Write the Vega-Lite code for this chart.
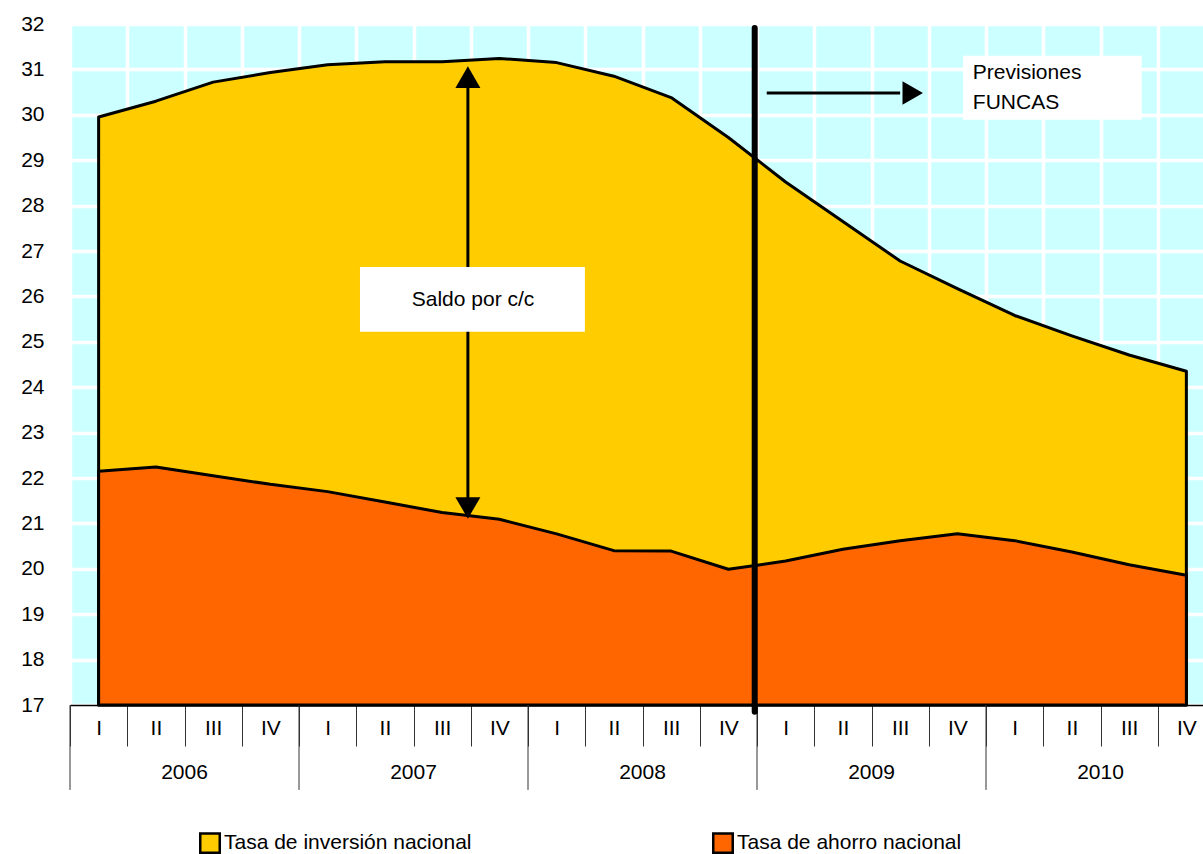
{
  "$schema": "https://vega.github.io/schema/vega-lite/v6.json",
  "autosize": "none",
  "width": 1133,
  "height": 681,
  "padding": {"left": 70, "top": 24, "right": 0, "bottom": 149},
  "config": {
    "font": "Liberation Sans",
    "view": {"stroke": null, "fill": "#CCFFFF"},
    "text": {"font": "Liberation Sans", "color": "black"}
  },
  "datasets": {
    "series": [
      {"id": "2006-I", "inv": 29.95, "aho": 22.15},
      {"id": "2006-II", "inv": 30.30, "aho": 22.24},
      {"id": "2006-III", "inv": 30.72, "aho": 22.05},
      {"id": "2006-IV", "inv": 30.93, "aho": 21.86},
      {"id": "2007-I", "inv": 31.10, "aho": 21.70},
      {"id": "2007-II", "inv": 31.17, "aho": 21.47},
      {"id": "2007-III", "inv": 31.17, "aho": 21.24},
      {"id": "2007-IV", "inv": 31.24, "aho": 21.09},
      {"id": "2008-I", "inv": 31.15, "aho": 20.77},
      {"id": "2008-II", "inv": 30.85, "aho": 20.40},
      {"id": "2008-III", "inv": 30.38, "aho": 20.39},
      {"id": "2008-IV", "inv": 29.50, "aho": 19.99},
      {"id": "2009-I", "inv": 28.52, "aho": 20.17},
      {"id": "2009-II", "inv": 27.65, "aho": 20.43},
      {"id": "2009-III", "inv": 26.78, "aho": 20.62},
      {"id": "2009-IV", "inv": 26.17, "aho": 20.77},
      {"id": "2010-I", "inv": 25.58, "aho": 20.62},
      {"id": "2010-II", "inv": 25.13, "aho": 20.37},
      {"id": "2010-III", "inv": 24.71, "aho": 20.09},
      {"id": "2010-IV", "inv": 24.35, "aho": 19.86}
    ],
    "years": [
      {"year": "2006", "first": "2006-I", "mid": "2006-II"},
      {"year": "2007", "first": "2007-I", "mid": "2007-II"},
      {"year": "2008", "first": "2008-I", "mid": "2008-II"},
      {"year": "2009", "first": "2009-I", "mid": "2009-II"},
      {"year": "2010", "first": "2010-I", "mid": "2010-II"}
    ],
    "vline": [{"ax": 11.96, "ay": 31.91, "ay2": 16.85}],
    "shaft": [{"ax": 6.95, "ay": 30.6, "ay2": 21.56}],
    "upHead": [{"ax": 6.95, "ay": 30.83}],
    "downHead": [{"ax": 6.95, "ay": 21.34}],
    "hshaft": [{"ax": 12.17, "ax2": 14.5, "ay": 30.48}],
    "rightHead": [{"ax": 14.72, "ay": 30.48}],
    "boxes": [
      {"ax": 5.065, "ax2": 8.994, "ay": 26.65, "ay2": 25.22},
      {"ax": 15.6, "ax2": 18.72, "ay": 31.3, "ay2": 29.89}
    ],
    "saldo": [{"ax": 7.04, "ay": 25.92, "label": "Saldo por c/c"}],
    "prev": [
      {"ax": 15.77, "ay": 30.92, "label": "Previsiones"},
      {"ax": 15.77, "ay": 30.26, "label": "FUNCAS"}
    ]
  },
  "resolve": {"scale": {"x": "independent"}},
  "layer": [
    {
      "data": {"name": "series"},
      "layer": [
        {
          "mark": {"type": "area", "stroke": "black", "strokeWidth": 3, "strokeJoin": "round", "opacity": 1},
          "encoding": {
            "x": {
              "field": "id", "type": "ordinal",
              "scale": {
                "type": "band",
                "domain": ["2006-I","2006-II","2006-III","2006-IV","2007-I","2007-II","2007-III","2007-IV","2008-I","2008-II","2008-III","2008-IV","2009-I","2009-II","2009-III","2009-IV","2010-I","2010-II","2010-III","2010-IV"],
                "range": [0, 1145],
                "paddingInner": 0, "paddingOuter": 0
              },
              "axis": {
                "title": null, "tickBand": "extent", "domain": true, "domainColor": "black", "domainWidth": 1.5,
                "ticks": true, "tickColor": "#333333", "tickWidth": 1, "tickSize": 41,
                "grid": true, "gridColor": "white", "gridWidth": 3.5, "gridOpacity": 1,
                "labelExpr": "split(datum.value, '-')[1]", "labelFontSize": 21, "labelPadding": -18,
                "labelBaseline": "middle", "labelColor": "black", "labelAngle": 0
              }
            },
            "y": {
              "field": "inv", "type": "quantitative",
              "scale": {"domain": [17, 32], "zero": false, "nice": false},
              "axis": {
                "title": null, "values": [17,18,19,20,21,22,23,24,25,26,27,28,29,30,31,32],
                "domain": false, "ticks": false, "grid": true, "gridColor": "white", "gridWidth": 3.5, "gridOpacity": 1,
                "labelFontSize": 21, "labelPadding": 26, "labelColor": "black"
              }
            },
            "y2": {"datum": 17},
            "color": {
              "datum": "Tasa de inversión nacional",
              "scale": {"domain": ["Tasa de inversión nacional", "Tasa de ahorro nacional"], "range": ["#FFCC00", "#FF6600"]},
              "legend": {
                "title": null, "orient": "none", "legendX": 129, "legendY": 808, "direction": "horizontal",
                "symbolType": "square", "symbolSize": 380, "symbolStrokeColor": "black", "symbolStrokeWidth": 2.5,
                "symbolOpacity": 1, "labelFontSize": 21, "labelFont": "Liberation Sans", "labelColor": "black",
                "labelLimit": 0, "columnPadding": 236, "labelOffset": 3, "padding": 0
              }
            }
          }
        },
        {
          "mark": {"type": "area", "stroke": "black", "strokeWidth": 3, "strokeJoin": "round", "opacity": 1},
          "encoding": {
            "x": {"field": "id", "type": "ordinal"},
            "y": {"field": "aho", "type": "quantitative"},
            "y2": {"datum": 17},
            "color": {"datum": "Tasa de ahorro nacional"}
          }
        },
        {
          "data": {"name": "years"},
          "mark": {"type": "rule", "color": "#333333", "strokeWidth": 1},
          "encoding": {
            "x": {"field": "first", "type": "ordinal", "bandPosition": 0},
            "y": {"datum": 17},
            "y2": {"datum": 15.13}
          }
        },
        {
          "data": {"name": "years"},
          "mark": {"type": "text", "fontSize": 21, "align": "center", "baseline": "middle", "color": "black"},
          "encoding": {
            "x": {"field": "mid", "type": "ordinal", "bandPosition": 1},
            "y": {"datum": 15.5},
            "text": {"field": "year"}
          }
        }
      ]
    },
    {
      "layer": [
        {
          "data": {"name": "vline"},
          "mark": {"type": "rule", "color": "black", "strokeWidth": 6, "strokeCap": "round"},
          "encoding": {
            "x": {"field": "ax", "type": "quantitative", "scale": {"domain": [0, 20], "range": [0, 1145], "nice": false, "zero": false}, "axis": null},
            "y": {"field": "ay", "type": "quantitative"},
            "y2": {"field": "ay2"}
          }
        },
        {
          "data": {"name": "shaft"},
          "mark": {"type": "rule", "color": "black", "strokeWidth": 3},
          "encoding": {
            "x": {"field": "ax", "type": "quantitative"},
            "y": {"field": "ay", "type": "quantitative"},
            "y2": {"field": "ay2"}
          }
        },
        {
          "data": {"name": "upHead"},
          "mark": {"type": "point", "shape": "triangle-up", "filled": true, "size": 625, "color": "black", "opacity": 1},
          "encoding": {
            "x": {"field": "ax", "type": "quantitative"},
            "y": {"field": "ay", "type": "quantitative"}
          }
        },
        {
          "data": {"name": "downHead"},
          "mark": {"type": "point", "shape": "triangle-down", "filled": true, "size": 625, "color": "black", "opacity": 1},
          "encoding": {
            "x": {"field": "ax", "type": "quantitative"},
            "y": {"field": "ay", "type": "quantitative"}
          }
        },
        {
          "data": {"name": "hshaft"},
          "mark": {"type": "rule", "color": "black", "strokeWidth": 3},
          "encoding": {
            "x": {"field": "ax", "type": "quantitative"},
            "x2": {"field": "ax2"},
            "y": {"field": "ay", "type": "quantitative"}
          }
        },
        {
          "data": {"name": "rightHead"},
          "mark": {"type": "point", "shape": "triangle-right", "filled": true, "size": 560, "color": "black", "opacity": 1},
          "encoding": {
            "x": {"field": "ax", "type": "quantitative"},
            "y": {"field": "ay", "type": "quantitative"}
          }
        },
        {
          "data": {"name": "boxes"},
          "mark": {"type": "rect", "color": "white", "opacity": 1},
          "encoding": {
            "x": {"field": "ax", "type": "quantitative"},
            "x2": {"field": "ax2"},
            "y": {"field": "ay", "type": "quantitative"},
            "y2": {"field": "ay2"}
          }
        },
        {
          "data": {"name": "saldo"},
          "mark": {"type": "text", "fontSize": 21, "align": "center", "baseline": "middle", "color": "black"},
          "encoding": {
            "x": {"field": "ax", "type": "quantitative"},
            "y": {"field": "ay", "type": "quantitative"},
            "text": {"field": "label"}
          }
        },
        {
          "data": {"name": "prev"},
          "mark": {"type": "text", "fontSize": 21, "align": "left", "baseline": "middle", "color": "black"},
          "encoding": {
            "x": {"field": "ax", "type": "quantitative"},
            "y": {"field": "ay", "type": "quantitative"},
            "text": {"field": "label"}
          }
        }
      ]
    }
  ]
}
